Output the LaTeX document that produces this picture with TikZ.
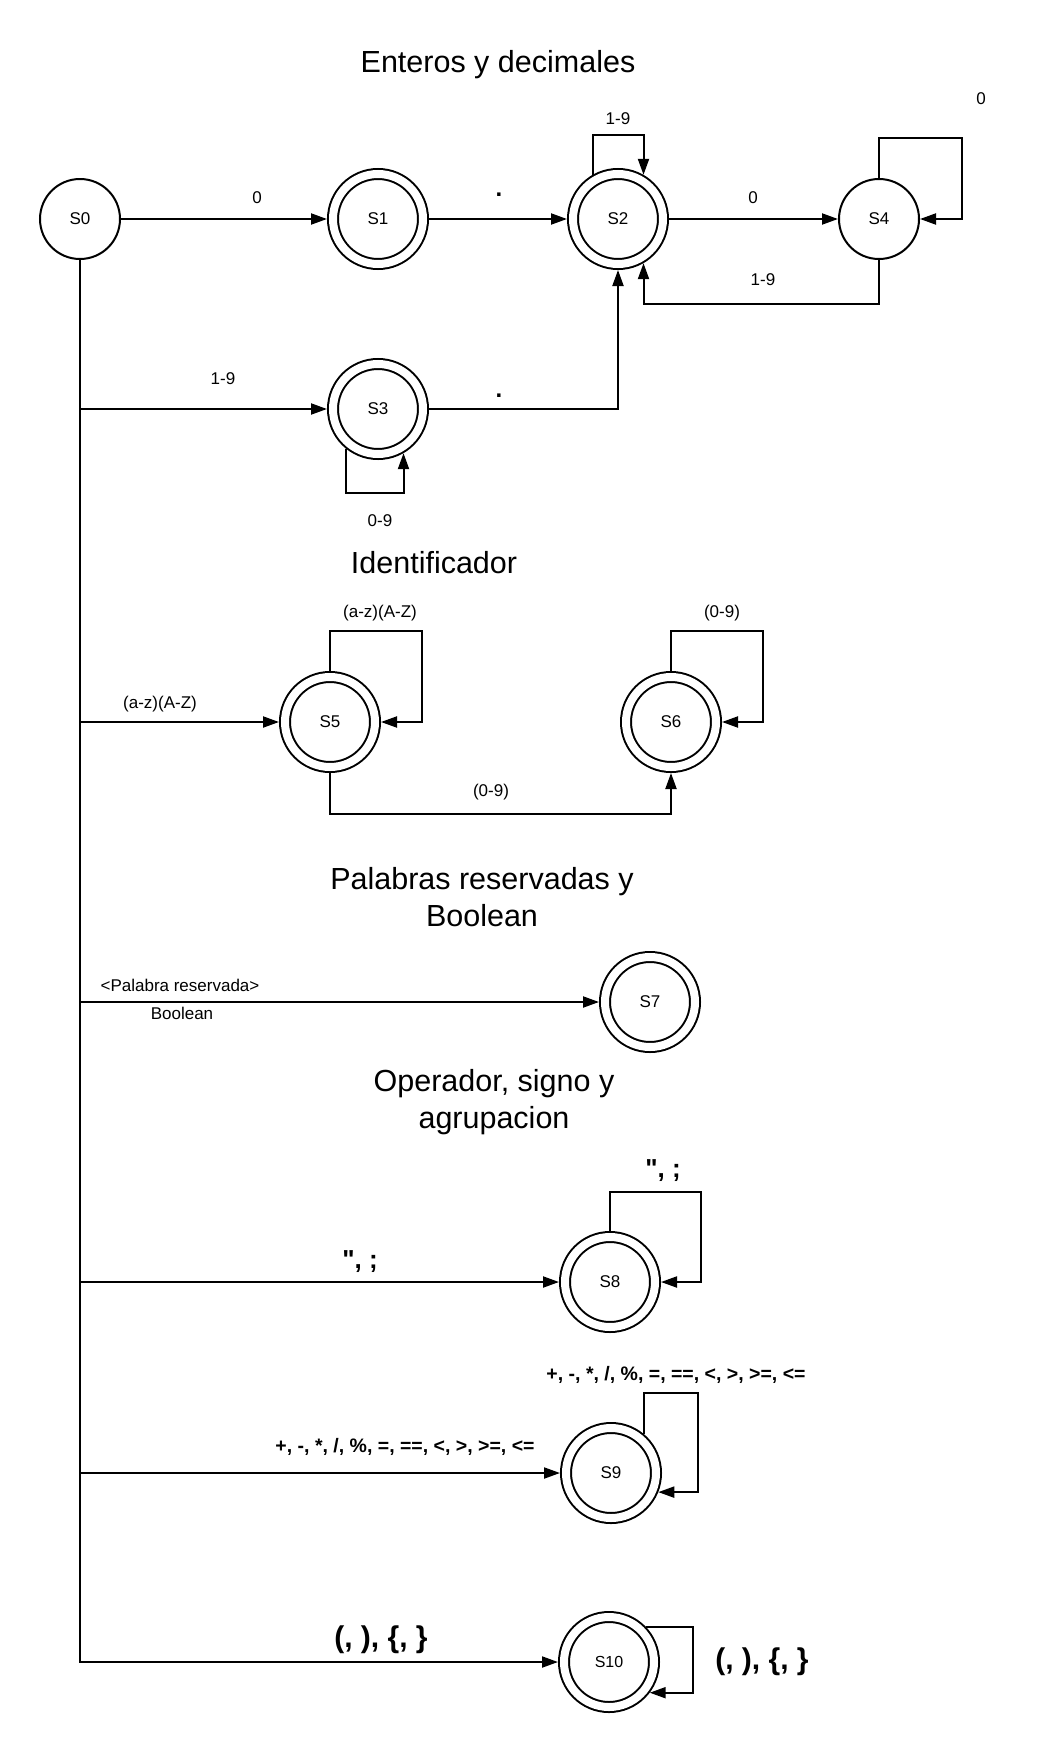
\documentclass[tikz,border=0pt]{standalone}
\usepackage{fontspec}
\setmainfont{Liberation Sans}
\newfontfamily\qfont{Liberation Sans}[Ligatures=TeXOff]
\usetikzlibrary{arrows.meta,calc}
\begin{document}
\begin{tikzpicture}[x=1pt,y=-1pt,
  every node/.style={font=\fontsize{17}{20}\selectfont, inner sep=0pt},
  st/.style={circle, draw, line width=2pt, minimum size=80pt, inner sep=0pt},
  acc/.style={circle, draw, line width=2pt, double, double distance=8pt, minimum size=90pt, inner sep=0pt, outer sep=6pt},
  arr/.style={line width=2pt, -{Triangle[length=16pt,width=11pt]}},
  ln/.style={line width=2pt},
  ttl/.style={font=\fontsize{30.5}{37.5}\selectfont, align=center},
  lbl/.style={font=\fontsize{17}{20}\selectfont},
  dotlbl/.style={font=\bfseries\fontsize{24}{28}\selectfont, anchor=base},
  bmid/.style={font=\bfseries\fontsize{19.5}{23}\selectfont},
  bq/.style={font=\qfont\bfseries\fontsize{26}{30}\selectfont},
  bbig/.style={font=\bfseries\fontsize{30}{36}\selectfont}
]
\fill[white] (0,0) rectangle (1041,1753);
\useasboundingbox (0,0) rectangle (1041,1753);

% titles
\node[ttl] (t1) at (498,65) {Enteros y decimales};
\node[ttl] (t2) at (434,563) {Identificador};
\node[ttl] (t3) at (482,897) {Palabras reservadas y\\Boolean};
\node[ttl] (t4) at (494,1102) {Operador, signo y\\agrupacion};

% states
\node[st]  (S0) at (80,219) {S0};
\node[acc] (S1) at (378,219) {S1};
\node[acc] (S2) at (618,219) {S2};
\node[st]  (S4) at (879,219) {S4};
\node[acc] (S3) at (378,409) {S3};
\node[acc] (S5) at (330,722) {S5};
\node[acc] (S6) at (671,722) {S6};
\node[acc] (S7) at (650,1002) {S7};
\node[acc] (S8) at (610,1282) {S8};
\node[acc] (S9) at (611,1473) {S9};
\node[acc, font=\fontsize{16}{19}\selectfont] (S10) at (609,1662) {S10};

% edges: integers and decimals
\draw[arr] (S0) -- (S1);
\draw[arr] (S1) -- (S2);
\draw[arr] (S2) -- (S4);
\draw[arr] (S2.120) -- ++(0,-40) -| (S2.60);
\draw[arr] (S4.north) -- ++(0,-40) -| ($(S4.east)+(42,0)$) -- (S4.east);
\draw[arr] (S4.south) -- ++(0,44) -| (S2.300);
\draw[arr] (S3.east) -| (S2.south);
\draw[arr] (S3.231) -- ++(0,44) -| (S3.300);

% spine from S0
\draw[arr] (S0.south) |- (S10.west);
\draw[arr] (S0 |- S3) -- (S3);
\draw[arr] (S0 |- S5) -- (S5);
\draw[arr] (S0 |- S7) -- (S7);
\draw[arr] (S0 |- S8) -- (S8);
\draw[arr] (S0 |- S9) -- (S9);

% identifier
\draw[arr] (S5.north) -- ++(0,-40) -| ($(S5.east)+(41,0)$) -- (S5.east);
\draw[arr] (S6.north) -- ++(0,-40) -| ($(S6.east)+(41,0)$) -- (S6.east);
\draw[arr] (S5.south) -- ++(0,41) -| (S6.south);

% loops lower part
\draw[arr] (S8.north) -- ++(0,-39) -| ($(S8.east)+(40,0)$) -- (S8.east);
\draw[arr] (S9.50) -- ++(0,-41) -| ($(S9.-22)+(40,0)$) -- (S9.-22);
\draw[arr] (S10.43) -- ($(S10.43)+(47,0)$) |- (S10.-37);

% labels
\node[lbl] (l01) at (257,198) {0};
\node[dotlbl] (l12) at (499,196) {.};
\node[lbl] (l22) at (618,119) {1-9};
\node[lbl] (l24) at (753,198) {0};
\node[lbl] (l44) at (981,99) {0};
\node[lbl] (l42) at (763,280) {1-9};
\node[lbl] (l03) at (223,379) {1-9};
\node[dotlbl] (l32) at (499,397) {.};
\node[lbl] (l33) at (380,521) {0-9};
\node[lbl] (l05) at (160,704) {(a-z)(A-Z)};
\node[lbl] (l55) at (380,613) {(a-z)(A-Z)};
\node[lbl] (l66) at (722,613) {(0-9)};
\node[lbl] (l56) at (491,792) {(0-9)};
\node[lbl] (l07a) at (180,985) {<Palabra reservada>};
\node[lbl] (l07b) at (182,1013) {Boolean};
\node[bq] (l08) at (360,1262) {", ;};
\node[bq] (l88) at (663,1171) {", ;};
\node[bmid] (l09) at (405,1447) {+, -, *, /, \%, =, ==, <, >, >=, <=};
\node[bmid] (l99) at (676,1375) {+, -, *, /, \%, =, ==, <, >, >=, <=};
\node[bbig] (l010) at (381,1640) {(, ), \{, \}};
\node[bbig] (l1010) at (762,1662) {(, ), \{, \}};
\end{tikzpicture}
\end{document}
